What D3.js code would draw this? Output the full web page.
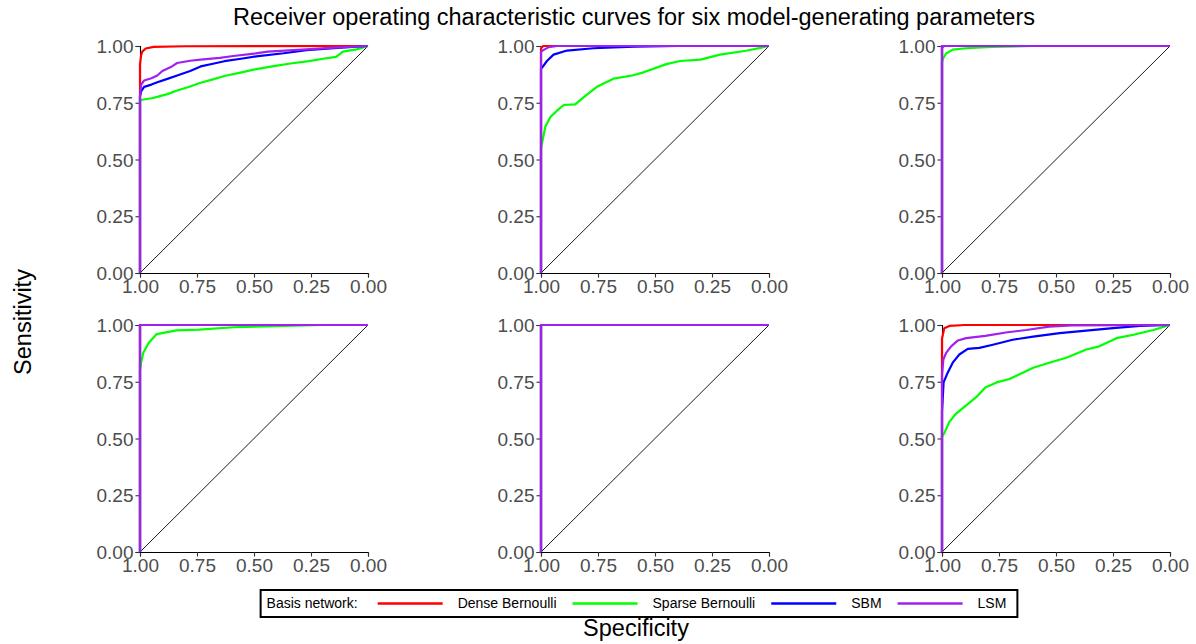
<!DOCTYPE html>
<html>
<head>
<meta charset="utf-8">
<script src="https://cdn.jsdelivr.net/npm/d3@7"></script>
<style>
  body { margin: 0; background: #fff; }
  svg { display: block; font-family: "Liberation Sans", Arial, sans-serif; }
</style>
</head>
<body>
<svg width="1196" height="644"></svg>
<script>
// 모델 이름, 색상
const models = ["Dense Bernoulli", "Sparse Bernoulli", "SBM", "LSM"];
const colors = ["#ff0000", "#00ff00", "#0000ff", "#a020f0"];
const ticks = [1, 0.75, 0.5, 0.25, 0];

// [specificity, sensitivity] — 그림에서 읽은 값
const p1Dense = [[1, 0], [1, 0.92], [0.995, 0.96], [0.99, 0.975], [0.975, 0.989], [0.94, 0.996], [0.8, 0.999], [0, 1]];
const p1Sparse = [[1, 0], [1, 0.755], [0.997, 0.762], [0.95, 0.77], [0.924, 0.776], [0.88, 0.788], [0.837, 0.804], [0.79, 0.818], [0.734, 0.838], [0.68, 0.853], [0.63, 0.868], [0.56, 0.883], [0.49, 0.898], [0.42, 0.91], [0.34, 0.923], [0.26, 0.933], [0.19, 0.945], [0.14, 0.952], [0.11, 0.975], [0.05, 0.985], [0, 1]];
const p1SBM = [[1, 0], [1, 0.78], [0.995, 0.8], [0.982, 0.82], [0.95, 0.83], [0.924, 0.84], [0.88, 0.855], [0.837, 0.87], [0.78, 0.89], [0.734, 0.91], [0.68, 0.922], [0.63, 0.933], [0.55, 0.945], [0.49, 0.954], [0.37, 0.968], [0.27, 0.982], [0.15, 0.99], [0, 1]];
const p1LSM = [[1, 0], [1, 0.78], [0.995, 0.83], [0.982, 0.848], [0.95, 0.858], [0.924, 0.87], [0.902, 0.89], [0.86, 0.91], [0.837, 0.925], [0.78, 0.935], [0.734, 0.94], [0.65, 0.948], [0.59, 0.956], [0.5, 0.966], [0.44, 0.975], [0.27, 0.985], [0.15, 0.993], [0, 1]];

const p2Dense = [[1, 0], [1, 0.99], [0.99, 1], [0, 1]];
const p2Sparse = [[1, 0], [1, 0.55], [0.995, 0.575], [0.981, 0.644], [0.959, 0.687], [0.93, 0.715], [0.9, 0.74], [0.85, 0.743], [0.8, 0.785], [0.755, 0.82], [0.682, 0.856], [0.6, 0.87], [0.55, 0.884], [0.45, 0.92], [0.39, 0.934], [0.3, 0.94], [0.215, 0.962], [0.1, 0.979], [0, 1]];
const p2SBM = [[1, 0], [1, 0.9], [0.995, 0.905], [0.974, 0.934], [0.945, 0.962], [0.886, 0.98], [0.77, 0.99], [0.59, 0.997], [0.4, 1], [0, 1]];
const p2LSM = [[1, 0], [1, 0.975], [0.988, 0.983], [0.966, 0.995], [0.93, 1], [0, 1]];

const p3Dense = [[1, 0], [1, 1], [0, 1]];
const p3Sparse = [[1, 0], [1, 0.93], [0.995, 0.945], [0.982, 0.967], [0.953, 0.984], [0.895, 0.99], [0.78, 0.996], [0.6, 1], [0, 1]];
const p3SBM = [[1, 0], [1, 0.995], [0.99, 1], [0, 1]];
const p3LSM = [[1, 0], [1, 1], [0, 1]];

const p4Dense = [[1, 0], [1, 1], [0, 1]];
const p4Sparse = [[1, 0], [1, 0.8], [0.995, 0.836], [0.985, 0.879], [0.963, 0.92], [0.927, 0.96], [0.84, 0.976], [0.74, 0.98], [0.59, 0.99], [0.37, 0.996], [0.2, 1], [0, 1]];
const p4SBM = [[1, 0], [1, 1], [0, 1]];
const p4LSM = [[1, 0], [1, 1], [0, 1]];

const p5Dense = [[1, 0], [1, 1], [0, 1]];
const p5Sparse = [[1, 0], [1, 1], [0, 1]];
const p5SBM = [[1, 0], [1, 1], [0, 1]];
const p5LSM = [[1, 0], [1, 1], [0, 1]];

const p6Dense = [[1, 0], [1, 0.94], [0.99, 0.986], [0.968, 0.996], [0.9, 1], [0, 1]];
const p6Sparse = [[1, 0], [1, 0.51], [0.99, 0.523], [0.968, 0.573], [0.938, 0.61], [0.894, 0.646], [0.85, 0.682], [0.81, 0.725], [0.76, 0.747], [0.704, 0.762], [0.66, 0.783], [0.6, 0.812], [0.53, 0.834], [0.455, 0.856], [0.367, 0.892], [0.31, 0.906], [0.235, 0.942], [0.16, 0.957], [0.073, 0.978], [0, 1]];
const p6SBM = [[1, 0], [1, 0.62], [0.993, 0.747], [0.975, 0.79], [0.953, 0.834], [0.924, 0.87], [0.887, 0.895], [0.836, 0.899], [0.777, 0.913], [0.69, 0.935], [0.6, 0.949], [0.484, 0.964], [0.367, 0.975], [0.25, 0.986], [0.132, 0.996], [0, 1]];
const p6LSM = [[1, 0], [1, 0.78], [0.994, 0.848], [0.982, 0.877], [0.96, 0.906], [0.93, 0.932], [0.894, 0.942], [0.81, 0.952], [0.72, 0.967], [0.63, 0.978], [0.53, 0.993], [0.43, 0.998], [0, 1]];

const panels = [
  [p1Dense, p1Sparse, p1SBM, p1LSM],
  [p2Dense, p2Sparse, p2SBM, p2LSM],
  [p3Dense, p3Sparse, p3SBM, p3LSM],
  [p4Dense, p4Sparse, p4SBM, p4LSM],
  [p5Dense, p5Sparse, p5SBM, p5LSM],
  [p6Dense, p6Sparse, p6SBM, p6LSM]
];

const svg = d3.select("svg");
const pw = 228, ph = 227;        // 패널 크기
const marginLeft = 140, marginTop = 46;
const colStep = 401, rowStep = 279;

const x = d3.scaleLinear().domain([1, 0]).range([0, pw]);
const y = d3.scaleLinear().domain([0, 1]).range([ph, 0]);
const line = d3.line().x(d => x(d[0])).y(d => y(d[1]));

panels.forEach((curves, i) => {
  const col = i % 3, row = Math.floor(i / 3);
  const g = svg.append("g")
    .attr("transform", `translate(${marginLeft + col * colStep}, ${marginTop + row * rowStep})`);

  // 축 먼저 그리고 곡선을 위에 덮음
  const xa = g.append("g")
    .attr("transform", `translate(0, ${ph})`)
    .call(d3.axisBottom(x).tickValues(ticks).tickFormat(d3.format(".2f")).tickSizeOuter(0).tickSize(4.5).tickPadding(2));
  const ya = g.append("g")
    .call(d3.axisLeft(y).tickValues(ticks).tickFormat(d3.format(".2f")).tickSizeOuter(0).tickSize(4.5).tickPadding(2));

  [xa, ya].forEach(a => {
    a.select(".domain").attr("stroke", "#000").attr("stroke-width", 1.1);
    a.selectAll(".tick line").attr("stroke", "#333").attr("stroke-width", 1.1);
    a.selectAll(".tick text")
      .attr("fill", "#4d4d4d")
      .style("font-size", "19px")
      .style("font-family", "'Liberation Sans', Arial, sans-serif");
  });
  ya.selectAll(".tick text").attr("dy", "0.35em");
  xa.selectAll(".tick text").attr("dy", "0.72em");

  // 대각선 기준선
  g.append("path")
    .attr("d", line([[1, 0], [0, 1]]))
    .attr("fill", "none")
    .attr("stroke", "#000")
    .attr("stroke-width", 0.9);

  g.selectAll("path.roc")
    .data(curves)
    .enter()
    .append("path")
    .attr("class", "roc")
    .attr("d", line)
    .attr("fill", "none")
    .attr("stroke", (d, k) => colors[k])
    .attr("stroke-width", 2.2)
    .attr("stroke-linejoin", "round");
});

// 제목, 축 이름
svg.append("text")
  .attr("x", 634).attr("y", 25)
  .attr("text-anchor", "middle")
  .style("font-size", "23.5px")
  .text("Receiver operating characteristic curves for six model-generating parameters");

svg.append("text")
  .attr("transform", "translate(31, 322) rotate(-90)")
  .attr("text-anchor", "middle")
  .style("font-size", "23.5px")
  .text("Sensitivity");

svg.append("text")
  .attr("x", 636).attr("y", 636)
  .attr("text-anchor", "middle")
  .style("font-size", "23.5px")
  .text("Specificity");

// 범례
const leg = svg.append("g");
const legY = 603.5;
let cx = 0;
const lt = leg.append("text")
  .attr("x", cx).attr("y", legY).attr("dy", "0.35em")
  .style("font-size", "14px")
  .text("Basis network:");
cx += lt.node().getComputedTextLength() + 20;
models.forEach((m, k) => {
  leg.append("line")
    .attr("x1", cx).attr("x2", cx + 65)
    .attr("y1", legY).attr("y2", legY)
    .attr("stroke", colors[k]).attr("stroke-width", 2.6);
  cx += 65 + 15;
  const t = leg.append("text")
    .attr("x", cx).attr("y", legY).attr("dy", "0.35em")
    .style("font-size", "14px")
    .text(m);
  cx += t.node().getComputedTextLength() + (k < models.length - 1 ? 16 : 0);
});
const boxW = cx + 6 + 11;
const boxX = 639 - boxW / 2;
leg.attr("transform", `translate(${boxX + 6}, 0)`);
svg.insert("rect", "g")
  .attr("x", boxX).attr("y", 590)
  .attr("width", boxW).attr("height", 27)
  .attr("fill", "none")
  .attr("stroke", "#000")
  .attr("stroke-width", 2);
</script>
</body>
</html>
